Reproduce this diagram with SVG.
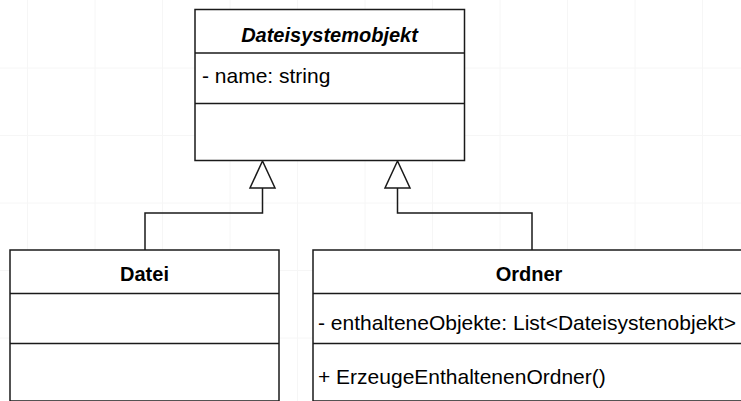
<svg xmlns="http://www.w3.org/2000/svg" width="741" height="401" viewBox="0 0 741 401">
<defs>
<style>
.box{fill:#fff;stroke:#1a1a1a;stroke-width:1.5}
.div{stroke:#1a1a1a;stroke-width:1.5}
.grid{stroke:#f6f6f6;stroke-width:1}
.t{font-family:"Liberation Sans",Arial,sans-serif;font-size:21px;fill:#000}
.title{font-weight:bold;text-anchor:middle;font-size:20px}
.conn{fill:none;stroke:#1a1a1a;stroke-width:1.5}
.tri{fill:#fff;stroke:#1a1a1a;stroke-width:1.5}
</style>
</defs>
<rect width="741" height="401" fill="#fff"/>
<g id="grid">
<path class="grid" d="M27.5,0V401M95,0V401M162.5,0V401M230,0V401M297.5,0V401M365,0V401M432.5,0V401M500,0V401M567.5,0V401M635,0V401M702.5,0V401M0,68H741M0,135.5H741M0,203H741M0,270.5H741M0,338H741"/>
</g>
<g id="connectors">
<path class="conn" d="M145,250V213H262.5V188"/>
<polygon class="tri" points="262.5,161 250,188 275,188"/>
<path class="conn" d="M532,250V213H397.5V188"/>
<polygon class="tri" points="397.5,161 385,188 410,188"/>
</g>
<g id="Dateisystemobjekt">
<rect class="box" x="195" y="9.5" width="269.5" height="151"/>
<line class="div" x1="195" y1="53" x2="464.5" y2="53"/>
<line class="div" x1="195" y1="103.5" x2="464.5" y2="103.5"/>
<text class="t title" x="329.5" y="42" font-style="italic">Dateisystemobjekt</text>
<text class="t" x="202" y="83">- name: string</text>
</g>
<g id="Datei">
<rect class="box" x="10" y="250" width="269" height="151"/>
<line class="div" x1="10" y1="293.5" x2="279" y2="293.5"/>
<line class="div" x1="10" y1="343.5" x2="279" y2="343.5"/>
<text class="t title" x="144.5" y="281">Datei</text>
</g>
<g id="Ordner">
<rect class="box" x="313" y="250" width="440" height="151"/>
<line class="div" x1="313" y1="293.5" x2="741" y2="293.5"/>
<line class="div" x1="313" y1="343.5" x2="741" y2="343.5"/>
<text class="t title" x="529" y="281">Ordner</text>
<text class="t" x="318" y="330">- enthalteneObjekte: List&lt;Dateisystenobjekt&gt;</text>
<text class="t" x="318" y="384">+ ErzeugeEnthaltenenOrdner()</text>
</g>
</svg>
